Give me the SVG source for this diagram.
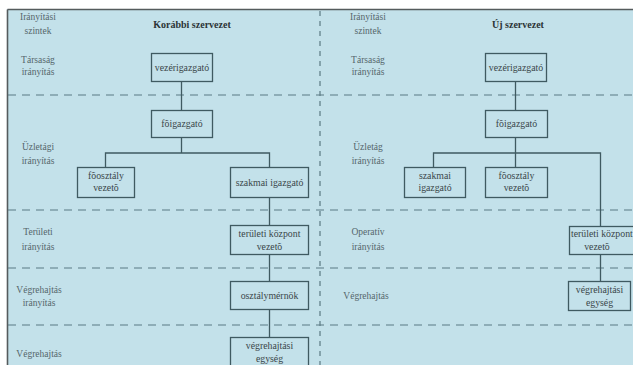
<svg xmlns="http://www.w3.org/2000/svg" width="633" height="365" viewBox="0 0 633 365">
  <style>
    .lbl { font-family: "Liberation Serif", "Times New Roman", serif; font-size: 9.5px; fill: #55666b; text-anchor: middle; }
    .hdr { font-family: "Liberation Serif", "Times New Roman", serif; font-size: 10px; font-weight: bold; fill: #2b3436; text-anchor: middle; }
    .box rect { fill: none; stroke: #3f5a61; stroke-width: 1.3; }
    .box text { font-family: "Liberation Serif", "Times New Roman", serif; font-size: 9.8px; fill: #3a4649; text-anchor: middle; }
    .level { stroke: #5b7a83; stroke-width: 1.2; stroke-dasharray: 8 6; fill: none; }
    .divider { stroke: #5b7a83; stroke-width: 1.2; stroke-dasharray: 5 5; fill: none; }
    .conn path { stroke: #3f5a61; stroke-width: 1.3; fill: none; }
  </style>

  <!-- page and frame -->
  <rect x="0" y="0" width="633" height="365" fill="#ffffff"/>
  <rect x="7" y="9" width="626" height="356" fill="#c3e1ea"/>
  <path d="M7.5 9.5 H633 M7.5 9.5 V365" stroke="#555b5d" stroke-width="1.6" fill="none"/>

  <!-- level separators -->
  <g id="levels">
    <path class="level" d="M8 95 H633 M8 210 H633 M8 268 H633 M8 325 H633"/>
    <path class="divider" d="M320 11 V365"/>
  </g>

  <!-- level labels, left panel -->
  <g id="labels-left">
    <text class="lbl" x="38" y="20">Irányítási</text>
    <text class="lbl" x="38" y="34">szintek</text>
    <text class="lbl" x="38" y="63">Társaság</text>
    <text class="lbl" x="38" y="75">irányítás</text>
    <text class="lbl" x="38" y="150">Üzletági</text>
    <text class="lbl" x="38" y="164">irányítás</text>
    <text class="lbl" x="38" y="235">Területi</text>
    <text class="lbl" x="38" y="250">irányítás</text>
    <text class="lbl" x="39" y="293">Végrehajtás</text>
    <text class="lbl" x="39" y="306">irányítás</text>
    <text class="lbl" x="39" y="357">Végrehajtás</text>
    <text class="hdr" x="192" y="28">Korábbi szervezet</text>
  </g>

  <!-- level labels, right panel -->
  <g id="labels-right">
    <text class="lbl" x="368" y="20">Irányítási</text>
    <text class="lbl" x="368" y="34">szintek</text>
    <text class="lbl" x="368" y="63">Társaság</text>
    <text class="lbl" x="368" y="75">irányítás</text>
    <text class="lbl" x="368" y="150">Üzletág</text>
    <text class="lbl" x="368" y="164">irányítás</text>
    <text class="lbl" x="368" y="235">Operatív</text>
    <text class="lbl" x="368" y="250">irányítás</text>
    <text class="lbl" x="366" y="299">Végrehajtás</text>
    <text class="hdr" x="518" y="28">Új szervezet</text>
  </g>

  <!-- connectors -->
  <g id="connectors" class="conn">
    <path d="M181.5 82 V110"/>
    <path d="M181.5 137 V153 M105.5 167 V153 H269.5 V167"/>
    <path d="M269.5 197 V225"/>
    <path d="M269.5 255 V281"/>
    <path d="M269.5 309 V337"/>
    <path d="M515.5 82 V110"/>
    <path d="M515.5 137 V167 M433.5 167 V153 H600.5 V226"/>
    <path d="M600.5 254 V281"/>
  </g>

  <!-- left panel nodes -->
  <g id="l-vezerigazgato" class="box">
    <rect x="151.5" y="53.5" width="61" height="28"/>
    <text x="182" y="71">vezérigazgató</text>
  </g>
  <g id="l-foigazgato" class="box">
    <rect x="151.5" y="110.5" width="61" height="27"/>
    <text x="182" y="127">fõigazgató</text>
  </g>
  <g id="l-foosztaly" class="box">
    <rect x="77.5" y="167.5" width="57" height="30"/>
    <text x="106" y="179">fõosztály</text>
    <text x="106" y="191">vezetõ</text>
  </g>
  <g id="l-szakmai" class="box">
    <rect x="230.5" y="167.5" width="78" height="30"/>
    <text x="269.5" y="186">szakmai igazgató</text>
  </g>
  <g id="l-teruleti" class="box">
    <rect x="230.5" y="225.5" width="78" height="29"/>
    <text x="269.5" y="237">területi központ</text>
    <text x="269.5" y="250">vezetõ</text>
  </g>
  <g id="l-osztalymernok" class="box">
    <rect x="230.5" y="281.5" width="78" height="28"/>
    <text x="269.5" y="299">osztálymérnök</text>
  </g>
  <g id="l-vegrehajtasi" class="box">
    <rect x="230.5" y="337.5" width="78" height="32"/>
    <text x="269.5" y="349">végrehajtási</text>
    <text x="269.5" y="362">egység</text>
  </g>

  <!-- right panel nodes -->
  <g id="r-vezerigazgato" class="box">
    <rect x="485.5" y="53.5" width="61" height="28"/>
    <text x="516" y="71">vezérigazgató</text>
  </g>
  <g id="r-foigazgato" class="box">
    <rect x="485.5" y="110.5" width="62" height="27"/>
    <text x="516.5" y="127">fõigazgató</text>
  </g>
  <g id="r-szakmai" class="box">
    <rect x="404.5" y="167.5" width="61" height="30"/>
    <text x="435" y="179">szakmai</text>
    <text x="435" y="191">igazgató</text>
  </g>
  <g id="r-foosztaly" class="box">
    <rect x="485.5" y="167.5" width="62" height="30"/>
    <text x="516.5" y="179">fõosztály</text>
    <text x="516.5" y="191">vezetõ</text>
  </g>
  <g id="r-teruleti" class="box">
    <rect x="569.5" y="226.5" width="70" height="28"/>
    <text x="571" y="237" style="text-anchor:start">területi központ</text>
    <text x="597" y="250">vezetõ</text>
  </g>
  <g id="r-vegrehajtasi" class="box">
    <rect x="568.5" y="281.5" width="62" height="29"/>
    <text x="599.5" y="293">végrehajtási</text>
    <text x="599.5" y="306">egység</text>
  </g>
</svg>
